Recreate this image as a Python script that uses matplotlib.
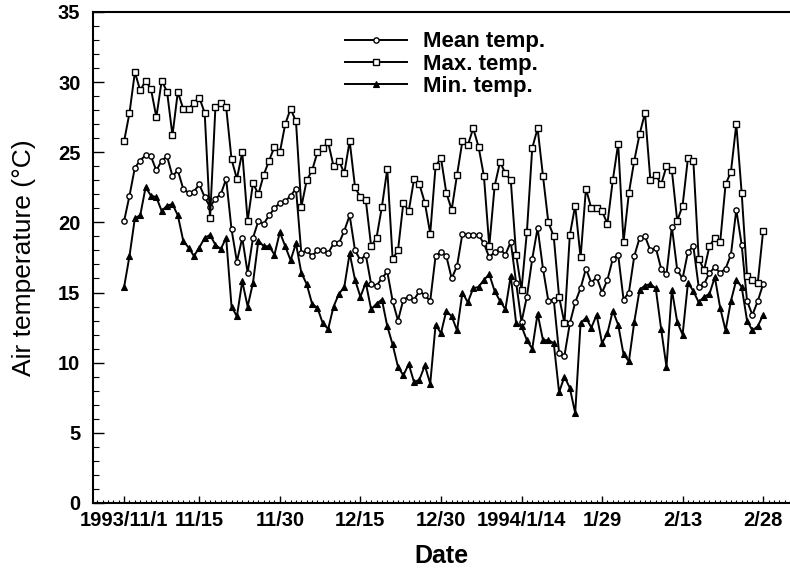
import numpy as np
import pandas as pd
import matplotlib
matplotlib.use("Agg")
import matplotlib.pyplot as plt
import matplotlib.dates as mdates

plt.rcParams['font.family'] = ['Liberation Sans', 'DejaVu Sans']

start_date = "1993-11-01"

# daily air temperature (deg C), 1993/11/1 - 1994/2/28
max_temp = [25.8, 27.8, 30.7, 29.4, 30.1, 29.5, 27.5, 30.1, 29.3, 26.2,
            29.3, 28.1, 28.1, 28.5, 28.9, 27.8, 20.3, 28.2, 28.5, 28.2,
            24.5, 23.1, 25.0, 20.1, 22.8, 22.0, 23.4, 24.4, 25.4, 25.0,
            27.0, 28.1, 27.2, 21.1, 23.0, 23.7, 25.0, 25.3, 25.7, 24.0,
            24.4, 23.5, 25.8, 22.5, 21.8, 21.6, 18.3, 18.9, 21.1, 23.8,
            17.4, 18.0, 21.4, 20.8, 23.1, 22.7, 21.4, 19.2, 24.0, 24.6,
            22.1, 20.9, 23.4, 25.8, 25.5, 26.7, 25.4, 23.3, 18.3, 22.6,
            24.3, 23.5, 23.0, 17.7, 15.2, 19.3, 25.3, 26.7, 23.3, 20.0,
            19.0, 14.7, 12.8, 19.1, 21.2, 17.5, 22.4, 21.0, 21.0, 20.8,
            19.9, 23.0, 25.6, 18.6, 22.1, 24.4, 26.3, 27.8, 23.0, 23.4,
            22.7, 24.0, 23.7, 20.1, 21.2, 24.6, 24.4, 17.4, 16.6, 18.3,
            18.9, 18.6, 22.7, 23.6, 27.0, 22.1, 16.2, 15.9, 15.7, 19.4]

mean_temp = [20.1, 21.9, 23.9, 24.4, 24.8, 24.7, 23.7, 24.4, 24.7, 23.3,
             23.7, 22.4, 22.1, 22.2, 22.7, 21.8, 21.1, 21.7, 22.0, 23.1,
             19.5, 17.2, 18.9, 16.4, 18.9, 20.1, 19.9, 20.5, 21.0, 21.4,
             21.5, 21.9, 22.4, 17.8, 18.0, 17.6, 18.0, 18.0, 17.8, 18.5,
             18.5, 19.4, 20.5, 18.0, 17.3, 17.7, 15.6, 15.5, 16.0, 16.5,
             14.4, 13.0, 14.5, 14.7, 14.5, 15.1, 14.8, 14.4, 17.6, 17.9,
             17.6, 16.0, 16.9, 19.2, 19.1, 19.1, 19.1, 18.5, 17.5, 17.9,
             18.1, 17.7, 18.6, 15.7, 12.9, 14.7, 17.4, 19.6, 16.7, 14.4,
             14.5, 10.7, 10.5, 12.8, 14.3, 15.3, 16.7, 15.7, 16.1, 15.0,
             15.9, 17.4, 17.7, 14.5, 15.0, 17.6, 18.9, 19.0, 18.0, 18.2,
             16.7, 16.3, 19.7, 16.6, 16.0, 17.9, 18.3, 15.4, 15.6, 16.4,
             16.8, 16.4, 16.7, 17.7, 20.9, 18.4, 14.4, 13.4, 14.4, 15.6]

min_temp = [15.4, 17.6, 20.3, 20.5, 22.5, 21.9, 21.8, 20.8, 21.2, 21.3,
            20.5, 18.7, 18.2, 17.6, 18.2, 18.9, 19.1, 18.4, 18.1, 18.9,
            14.0, 13.3, 15.8, 14.0, 15.7, 18.7, 18.3, 18.3, 17.7, 19.3,
            18.3, 17.3, 18.5, 16.4, 15.6, 14.2, 13.9, 12.8, 12.4, 14.0,
            14.9, 15.4, 17.8, 15.9, 14.7, 15.7, 13.8, 14.2, 14.5, 12.6,
            11.3, 9.7, 9.1, 9.9, 8.6, 8.8, 9.8, 8.5, 12.7, 12.1,
            13.7, 13.3, 12.3, 15.0, 14.3, 15.3, 15.4, 15.9, 16.3, 15.1,
            14.4, 13.8, 16.2, 12.8, 12.6, 11.6, 11.0, 13.5, 11.6, 11.6,
            11.4, 7.9, 9.0, 8.2, 6.4, 12.8, 13.2, 12.5, 13.4, 11.4,
            12.1, 13.7, 12.7, 10.6, 10.1, 12.9, 15.2, 15.5, 15.6, 15.3,
            12.4, 9.7, 15.2, 12.9, 12.0, 15.7, 15.1, 14.3, 14.7, 14.9,
            16.1, 13.9, 12.3, 14.4, 15.9, 15.4, 13.0, 12.3, 12.6, 13.4]

tick_dates = ["1993-11-01", "1993-11-15", "1993-11-30", "1993-12-15", "1993-12-30",
              "1994-01-14", "1994-01-29", "1994-02-13", "1994-02-28"]
tick_labels = ["1993/11/1", "11/15", "11/30", "12/15", "12/30",
               "1994/1/14", "1/29", "2/13", "2/28"]

dates = pd.date_range(start_date, periods=len(max_temp), freq="D")

fig = plt.figure(figsize=(7.9, 5.73), dpi=100)
ax = fig.add_axes([0.1177, 0.1222, 0.8823, 0.857])

ms = 3.8
ax.plot(dates, mean_temp, color='black', lw=1.4, marker='o', ms=ms,
        mfc='white', mec='black', mew=1.0, label='Mean temp.')
ax.plot(dates, max_temp, color='black', lw=1.4, marker='s', ms=ms,
        mfc='white', mec='black', mew=1.0, label='Max. temp.')
ax.plot(dates, min_temp, color='black', lw=1.4, marker='^', ms=ms,
        mfc='black', mec='black', mew=0.8, label='Min. temp.')

d0 = pd.Timestamp(start_date)
ax.set_xlim(d0 - pd.Timedelta(days=5.8), d0 + pd.Timedelta(days=124))
ax.set_ylim(0, 35)

ax.set_xticks(pd.to_datetime(tick_dates))
ax.set_xticklabels(tick_labels)
ax.xaxis.set_minor_locator(mdates.DayLocator())
ax.set_yticks(np.arange(0, 36, 5))
ax.set_yticks(np.arange(0, 36, 1), minor=True)

ax.tick_params(axis='x', which='major', direction='in', length=5, width=1.0, pad=6)
ax.tick_params(axis='x', which='minor', direction='in', length=2.5, width=0.8)
ax.tick_params(axis='y', which='major', direction='in', length=8, width=1.0, pad=9)
ax.tick_params(axis='y', which='minor', direction='in', length=4.5, width=0.8)
for lab in ax.get_xticklabels() + ax.get_yticklabels():
    lab.set_fontsize(14.5)
    lab.set_fontweight('bold')

ax.spines['right'].set_visible(False)
for s in ['left', 'bottom', 'top']:
    ax.spines[s].set_linewidth(1.5)

ax.set_xlabel('Date', fontsize=18, fontweight='bold', labelpad=10)
ax.set_ylabel('Air temperature (°C)', fontsize=19, labelpad=16)

ax.legend(loc='upper left', bbox_to_anchor=(0.339, 0.992), frameon=False,
          prop={'size': 16, 'weight': 'bold'}, handlelength=2.8,
          handletextpad=0.7, labelspacing=0.05, numpoints=1,
          borderaxespad=0.3)

fig.savefig('out.png', dpi=100)
